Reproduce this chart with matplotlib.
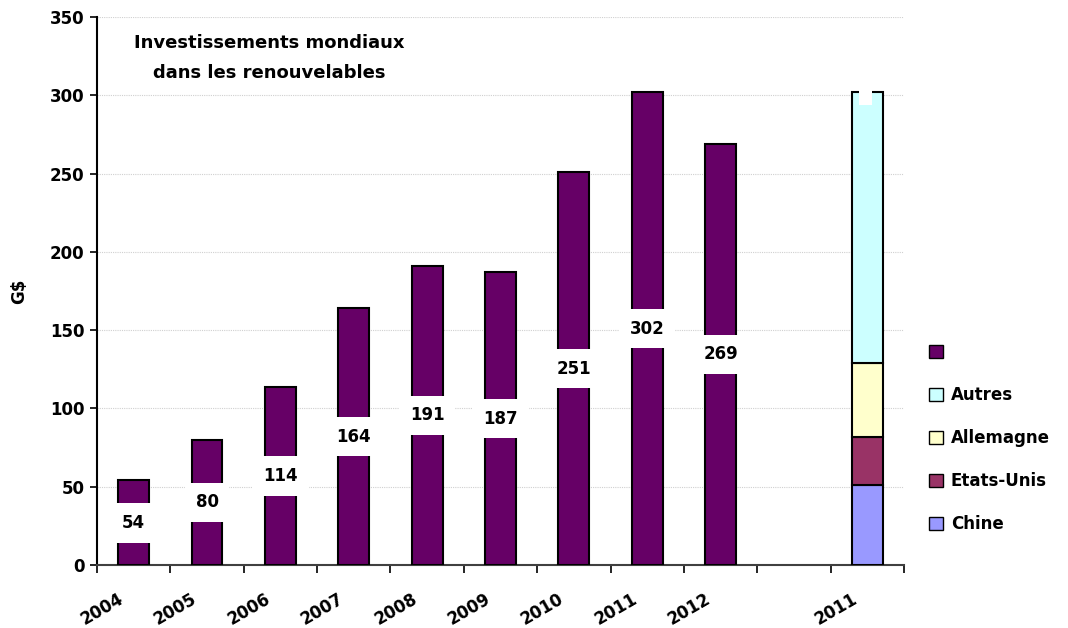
import matplotlib.pyplot as plt
import numpy as np
from matplotlib.patches import Patch
from matplotlib import transforms

plt.rcParams['font.family'] = ['DejaVu Sans']
plt.rcParams['font.weight'] = 'bold'

years = ['2004', '2005', '2006', '2007', '2008', '2009', '2010', '2011', '2012']
totals = [54, 80, 114, 164, 191, 187, 251, 302, 269]
split_label = '2011'
split_names = ['Chine', 'Etats-Unis', 'Allemagne', 'Autres']
split_values = [51, 31, 47, 173]
split_colors = ['#9999FF', '#993366', '#FFFFCC', '#CCFFFF']
bar_color = '#660066'

fig = plt.figure(figsize=(10.68, 6.28), dpi=100)
ax = fig.add_axes([0.0908, 0.1003, 0.7556, 0.8726])

n = len(years) + 2
x_years = np.arange(len(years)) + 0.5
x_split = n - 0.5
bw = 0.42

ax.bar(x_years, totals, width=bw, color=bar_color, edgecolor='black', linewidth=1.5, zorder=3)
for xi, v in zip(x_years, totals):
    ax.text(xi, v / 2, str(v), ha='center', va='center', fontsize=12, fontweight='bold', zorder=4,
            bbox=dict(boxstyle='square,pad=0.65', facecolor='white', edgecolor='none'))

bottom = 0
for name, v, c in zip(split_names, split_values, split_colors):
    ax.bar(x_split, v, bottom=bottom, width=bw, color=c, edgecolor='black', linewidth=1.5, zorder=3)
    bottom += v
# empty data label of the hidden series
ax.text(x_split - 0.03, bottom + 1, ' ', ha='center', va='top', fontsize=7, zorder=4,
        bbox=dict(boxstyle='square,pad=0.5', facecolor='white', edgecolor='none'))

ax.set_xlim(0, n)
ax.set_ylim(0, 350)
ax.set_yticks(np.arange(0, 351, 50))
ax.tick_params(axis='y', labelsize=12, length=5, width=1.2, pad=4)
ax.yaxis.grid(True, color='#d0d0d0', linestyle=(0, (1, 1)), linewidth=0.8, zorder=0)

ax.set_xticks(np.arange(0, n + 1))
ax.set_xticklabels([])
ax.tick_params(axis='x', which='major', length=6, width=1.2, direction='out')
ax.set_xticks(list(x_years) + [x_split], minor=True)
ax.set_xticklabels(years + [split_label], minor=True, rotation=30, ha='right',
                   rotation_mode='anchor', fontsize=12)
ax.tick_params(axis='x', which='minor', length=0, pad=18)
offset = transforms.ScaledTranslation(-16 / 100, 0, fig.dpi_scale_trans)
for lbl in ax.xaxis.get_minorticklabels():
    lbl.set_transform(lbl.get_transform() + offset)

for s in ['top', 'right']:
    ax.spines[s].set_visible(False)
ax.spines['left'].set_linewidth(1.5)
ax.spines['bottom'].set_linewidth(1.5)
ax.spines['bottom'].set_color('#404040')

ax.set_ylabel('G$', fontsize=12, fontweight='bold', labelpad=16)

ax.text(0.214, 0.925, 'Investissements mondiaux\ndans les renouvelables', transform=ax.transAxes,
        ha='center', va='center', fontsize=13, fontweight='bold', linespacing=1.85)

handles = [Patch(facecolor=bar_color, edgecolor='black', label='')]
handles += [Patch(facecolor=c, edgecolor='black', label=nm)
            for nm, c in zip(split_names[::-1], split_colors[::-1])]
ax.legend(handles=handles, loc='upper left', bbox_to_anchor=(0.856, 0.477),
          bbox_transform=fig.transFigure, frameon=False, fontsize=12,
          handlelength=0.8, handleheight=0.8, handletextpad=0.5, labelspacing=1.5)

fig.savefig('out.png', dpi=100, facecolor='white')
